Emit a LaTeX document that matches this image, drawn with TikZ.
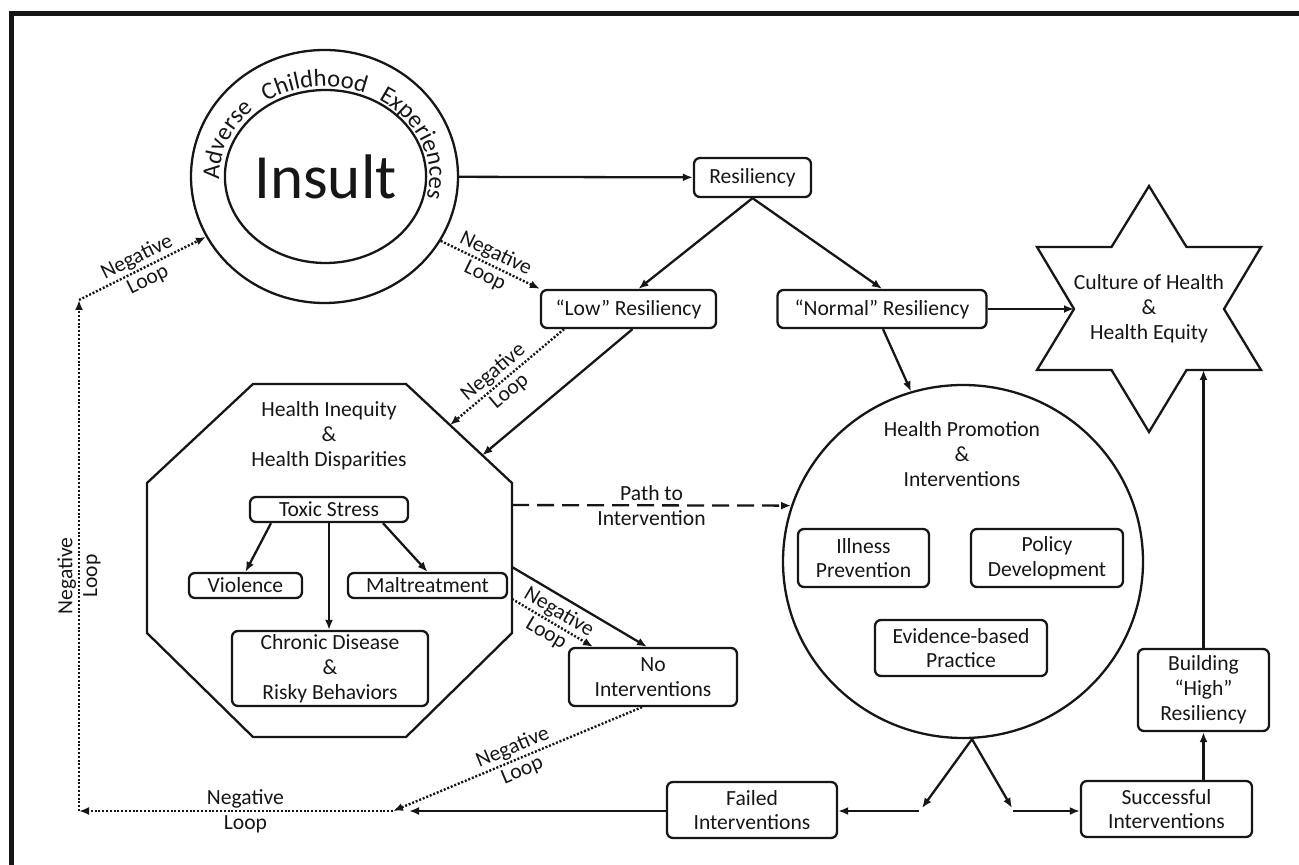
\documentclass[tikz,border=0pt]{standalone}
\usepackage{fontspec}
\setmainfont{Carlito}
\usetikzlibrary{arrows.meta,decorations.text,calc,shapes.geometric}
\definecolor{ink}{HTML}{161616}
\begin{document}
\begin{tikzpicture}[x=0.5pt,y=-0.5pt,
  every node/.style={text=ink, font=\fontsize{10.8}{12.4}\selectfont},
  box/.style={draw=ink, line width=1.15pt, rounded corners=3pt, align=center, inner sep=0pt},
  ring/.style={ellipse, draw=ink, line width=1.15pt, inner sep=0pt},
  arr/.style={draw=ink, line width=1.15pt, -{Latex[length=5pt,width=4pt]}},
  dotarr/.style={arr, line width=1.2pt, dash pattern=on 1pt off 0.9pt},
  dasharr/.style={arr, dash pattern=on 8.5pt off 4pt},
  lbl/.style={align=center, sloped, inner sep=0pt},
  txt/.style={align=center, inner sep=0pt}
]
\useasboundingbox (0,0) rectangle (1299,865);
% frame (only top and left edges visible)
\draw[line width=2.5pt, draw=ink] (11.5,880) -- (11.5,13.5) -- (1310,13.5);

% Adverse Childhood Experiences / Insult
\node[ring, minimum width=133.5pt, minimum height=126.5pt] (ace) at (324.5,176.5) {};
\node[ring, minimum width=96.5pt, minimum height=86.5pt, font=\fontsize{31.5}{36}\selectfont] (insult) at (325.5,176.5) {Insult};
\path[decorate, decoration={text along path,
   text={|\fontsize{12.3}{14}\selectfont\color{ink}|Adverse Childhood Experiences},
   text align={fit to path stretching spaces}}]
  (324.5,176.5) ++(178:105 and 90) arc[start angle=178, end angle=374, x radius=105, y radius=90];

% boxes top
\node[box, minimum width=58.5pt, minimum height=19.5pt] (res) at (752.5,177.5) {Resiliency};
\node[box, minimum width=87.5pt, minimum height=19pt] (low) at (628.5,309) {“Low” Resiliency};
\node[box, minimum width=104.5pt, minimum height=19pt] (norm) at (882,309) {“Normal” Resiliency};

% star
\coordinate (sT) at (1149,186);
\coordinate (sI1) at (1186.5,247);
\coordinate (sUR) at (1261,247);
\coordinate (sIR) at (1224,309);
\coordinate (sLR) at (1261,370);
\coordinate (sI2) at (1186.5,370);
\coordinate (sB) at (1149,432);
\coordinate (sI3) at (1111.5,370);
\coordinate (sLL) at (1037,370);
\coordinate (sIL) at (1074,309);
\coordinate (sUL) at (1037,247);
\coordinate (sI4) at (1111.5,247);
\draw[draw=ink, line width=1.15pt, line join=miter] (sT) -- (sI1) -- (sUR) -- (sIR) -- (sLR) -- (sI2) -- (sB) -- (sI3) -- (sLL) -- (sIL) -- (sUL) -- (sI4) -- cycle;
\node[txt] (cult) at (1149,309) {Culture of Health\\\&\\Health Equity};

% octagon
\coordinate (o1) at (253,384);
\coordinate (o2) at (406,384);
\coordinate (o3) at (512,483);
\coordinate (o4) at (512,633);
\coordinate (o5) at (406,737);
\coordinate (o6) at (253,737);
\coordinate (o7) at (147,633);
\coordinate (o8) at (147,483);
\draw[draw=ink, line width=1.15pt, line join=miter] (o1) -- (o2) -- (o3) -- (o4) -- (o5) -- (o6) -- (o7) -- (o8) -- cycle;
\node[txt] (hi) at (329,436) {Health Inequity\\\&\\Health Disparities};
\node[box, minimum width=79pt, minimum height=12.5pt] (toxic) at (329,509.5) {Toxic Stress};
\node[box, minimum width=56.5pt, minimum height=12.5pt] (viol) at (245.5,585.5) {Violence};
\node[box, minimum width=79.5pt, minimum height=12.5pt] (malt) at (427.5,585.5) {Maltreatment};
\node[box, minimum width=98pt, minimum height=37.5pt] (chron) at (330,668.5) {Chronic Disease\\\&\\Risky Behaviors};

% health promotion circle
\node[ring, minimum width=180pt, minimum height=176.5pt] (hp) at (963,561.5) {};
\node[txt] (hpt) at (962,454) {Health Promotion\\\&\\Interventions};
\node[box, minimum width=65.5pt, minimum height=29pt] (ill) at (863.5,558) {Illness\\Prevention};
\node[box, minimum width=76pt, minimum height=29pt] (pol) at (1047,558) {Policy\\Development};
\node[box, minimum width=86pt, minimum height=28pt] (evid) at (961,648) {Evidence-based\\Practice};

% lower boxes
\node[box, minimum width=84pt, minimum height=29pt] (noint) at (653,677) {No\\Interventions};
\node[box, minimum width=85pt, minimum height=28pt] (failed) at (752,810) {Failed\\Interventions};
\node[box, minimum width=85.5pt, minimum height=28pt] (succ) at (1166.5,809) {Successful\\Interventions};
\node[box, minimum width=65.5pt, minimum height=41pt] (build) at (1203.5,690) {Building\\“High”\\Resiliency};

% loop coordinates
\coordinate (c0) at (79,811);
\coordinate (c1) at (79,300);
\coordinate (j) at (393,811);
\coordinate (jf) at (409,811);
\coordinate (fa) at (922,808);
\coordinate (fb) at (1012,808);
\coordinate (fa2) at (919,811);
\coordinate (fb2) at (1013,811);

% connectors
\draw[arr] (ace) -- (res);
\draw[arr] (res.south) -- ($(low.north)+(10,0)$);
\draw[arr] (res.south) -- (norm.north);
\draw[arr] (norm.east) -- (sIL);
\draw[arr] ($(norm.south)+(1,0)$) -- (hp.107);
\draw[arr] ($(low.south)+(4,0)$) -- ($(o2)!0.72!(o3)$);
\draw[dotarr] ($(low.south)+(-64.5,0)$) -- node[lbl, pos=0.55] {Negative\\Loop} ($(o2)!0.415!(o3)$);
\draw[dotarr] (ace.-29) -- node[lbl] {Negative\\Loop} (low.north west);
\draw[dotarr] (c0) -- node[lbl, pos=0.46] {Negative\\Loop} (c1);
\draw[dotarr] (c1) -- node[lbl] {Negative\\Loop} (ace.207);
\draw[dotarr] (j) -- node[lbl, pos=0.47] {Negative\\Loop} (c0);
\draw[arr] (failed.west |- jf) -- (jf);
\draw[dotarr] ($(noint.south)+(-11,0)$) -- node[lbl] {Negative\\Loop} (j);
\draw[arr] ($(o3)!0.56!(o4)$) -- ($(noint.north)+(-6,0)$);
\draw[dotarr] ($(o3)!0.773!(o4)$) -- node[lbl] {Negative\\Loop} ($(noint.north)+(-60,0)$);
\draw[dasharr] ($(o3)!0.147!(o4)$) -- node[txt] {Path to\\Intervention} (hp.162);
\draw[arr] ($(toxic.south)+(-58,0)$) -- (viol.north);
\draw[arr] ($(toxic.south)+(54,0)$) -- (malt.north);
\draw[arr] (toxic.south) -- (toxic.south |- chron.north);
\draw[arr] ($(hp.south)+(9,0)$) -- (fa);
\draw[arr] ($(hp.south)+(9,0)$) -- (fb);
\draw[arr] (fa2) -- (fa2 -| failed.east);
\draw[arr] (fb2) -- (fb2 -| succ.west);
\draw[arr] (build.south |- succ.north) -- (build.south);
\draw[arr] (build.north) -- (build.north |- sLR);
\end{tikzpicture}
\end{document}
